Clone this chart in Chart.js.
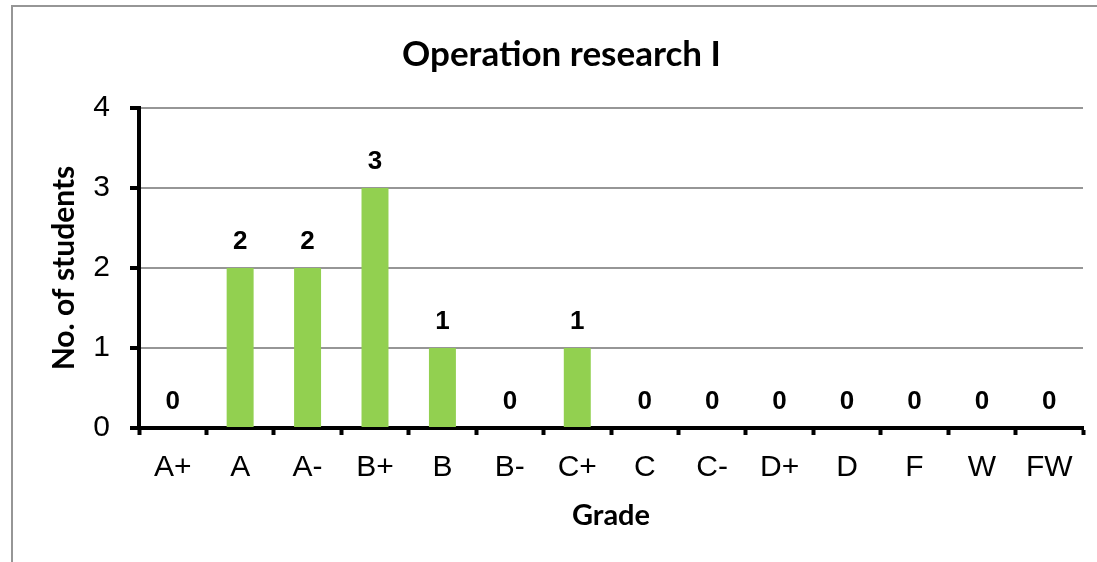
<!DOCTYPE html>
<html>
<head>
<meta charset="utf-8">
<script src="https://cdn.jsdelivr.net/npm/chart.js@4.4.1/dist/chart.umd.min.js"></script>
<style>
  html, body { margin: 0; padding: 0; background: #fff; overflow: hidden; }
  #frame {
    position: absolute; left: 11px; top: 5px;
    width: 1200px; height: 700px;
    border: 2px solid #969696;
  }
  #wrap { position: absolute; left: 0; top: 0; width: 1097px; height: 562px; }
</style>
</head>
<body>
<div id="frame"></div>
<div id="wrap"><canvas id="chart" width="1097" height="562"></canvas></div>
<script>
const grades = ["A+", "A", "A-", "B+", "B", "B-", "C+", "C", "C-", "D+", "D", "F", "W", "FW"];
const students = [0, 2, 2, 3, 1, 0, 1, 0, 0, 0, 0, 0, 0, 0];
const yTicks = [0, 1, 2, 3, 4];

const titleFont = "Lato, 'Open Sans', sans-serif";
const tickFont = "'Liberation Sans', Arial, sans-serif";

// bold value over each bar
const barLabels = {
  id: "barLabels",
  afterDatasetsDraw(chart) {
    const ctx = chart.ctx;
    const meta = chart.getDatasetMeta(0);
    ctx.save();
    ctx.font = "bold 26px " + tickFont;
    ctx.fillStyle = "#000";
    ctx.textAlign = "center";
    ctx.textBaseline = "middle";
    meta.data.forEach((bar, i) => {
      ctx.fillText(String(students[i]), bar.x, bar.y - 26);
    });
    ctx.restore();
  }
};

new Chart(document.getElementById("chart"), {
  type: "bar",
  data: {
    labels: grades,
    datasets: [{
      data: students,
      backgroundColor: "#92d050",
      borderWidth: 0,
      categoryPercentage: 1,
      barPercentage: 0.4
    }]
  },
  options: {
    responsive: false,
    animation: false,
    layout: { padding: { left: 40, right: 14, top: 0, bottom: 0 } },
    plugins: {
      legend: { display: false },
      tooltip: { enabled: false },
      title: {
        display: true,
        text: "Operation research I",
        color: "#000",
        font: { family: titleFont, size: 35, weight: "bold" },
        padding: { top: 34, bottom: 32 }
      }
    },
    scales: {
      x: {
        afterFit(scale) { scale.height = 134; },
        border: { display: true, color: "#000", width: 4 },
        grid: {
          display: true,
          drawOnChartArea: false,
          drawTicks: true,
          offset: true,
          tickLength: 7,
          tickWidth: 4,
          tickColor: "#000"
        },
        ticks: {
          color: "#000",
          font: { family: tickFont, size: 30 },
          padding: 15,
          maxRotation: 0,
          autoSkip: false
        },
        title: {
          display: true,
          text: "Grade",
          color: "#000",
          font: { family: titleFont, size: 29, weight: "bold" },
          padding: { top: 0, bottom: 29 }
        }
      },
      y: {
        min: 0,
        max: 4,
        afterFit(scale) { scale.width = 99; },
        afterBuildTicks(scale) { scale.ticks = yTicks.map(v => ({ value: v })); },
        border: { display: true, color: "#000", width: 4 },
        grid: {
          color: "#969696",
          lineWidth: 2,
          drawTicks: true,
          tickLength: 9,
          tickWidth: 4,
          tickColor: "#000"
        },
        ticks: {
          color: "#000",
          font: { family: tickFont, size: 30 },
          padding: 20
        },
        title: {
          display: true,
          text: "No. of students",
          color: "#000",
          font: { family: titleFont, size: 30, weight: "bold" },
          padding: { top: 6, bottom: 0 }
        }
      }
    }
  },
  plugins: [barLabels]
});
</script>
</body>
</html>
